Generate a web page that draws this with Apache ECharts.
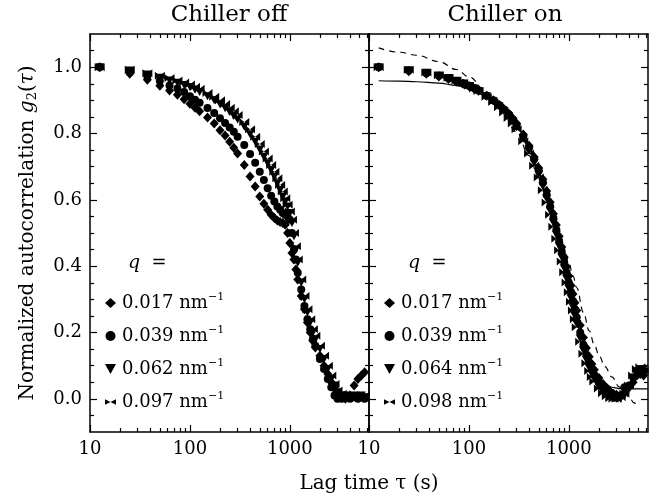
<!DOCTYPE html>
<html><head><meta charset="utf-8">
<script src="https://cdn.jsdelivr.net/npm/echarts@6/dist/echarts.min.js"></script>
<style>html,body{margin:0;padding:0;background:#fff}#c{width:657px;height:497px}</style>
</head><body><div id="c"></div>
<script>
// ---------- data ----------
const lags = [12.5,25,37.5,50,62.5,75,87.5,100,112.5,125,150,175,200,225,250,275,300,350,400,450,500,550,600,650,700,750,800,850,900,950,1000,1050,1100,1150,1200,1300,1400,1500,1600,1700,1800,2000,2200,2400,2600,2800,3000,3300,3600,4000,4400,4800,5200,5600];

// Chiller off
const offQ017 = [1.0,0.98,0.962,0.944,0.93,0.917,0.903,0.89,0.878,0.867,0.848,0.83,0.81,0.794,0.775,0.757,0.74,0.705,0.67,0.64,0.61,0.588,0.57,0.555,0.545,0.538,0.533,0.53,0.525,0.5,0.47,0.44,0.42,0.39,0.36,0.31,0.27,0.23,0.2,0.175,0.155,0.13,0.1,0.075,0.05,0.035,0.015,0.005,0.0,0.01,0.04,0.06,0.07,0.08];
const offQ039 = [1.0,0.985,0.972,0.958,0.945,0.936,0.925,0.912,0.902,0.893,0.877,0.862,0.846,0.832,0.818,0.805,0.79,0.765,0.738,0.712,0.685,0.66,0.635,0.612,0.595,0.58,0.57,0.56,0.555,0.55,0.54,0.5,0.45,0.42,0.38,0.33,0.28,0.24,0.21,0.18,0.16,0.12,0.09,0.06,0.035,0.01,0.0,0.0,0.005,0.0,0.005,0.0,0.005,0.0];
const offQ062 = [1.0,0.99,0.978,0.968,0.96,0.953,0.946,0.94,0.932,0.925,0.912,0.9,0.888,0.877,0.865,0.853,0.842,0.82,0.798,0.775,0.752,0.73,0.71,0.69,0.67,0.65,0.63,0.61,0.595,0.58,0.56,0.53,0.49,0.45,0.41,0.35,0.3,0.26,0.23,0.2,0.18,0.15,0.12,0.09,0.06,0.04,0.02,0.01,0.01,0.005,0.01,0.005,0.01,0.005];
const offQ097 = [1.0,0.992,0.982,0.974,0.967,0.96,0.954,0.948,0.941,0.935,0.922,0.911,0.9,0.889,0.878,0.867,0.856,0.835,0.813,0.79,0.768,0.746,0.725,0.705,0.685,0.665,0.645,0.625,0.605,0.585,0.565,0.54,0.5,0.46,0.42,0.36,0.31,0.27,0.24,0.21,0.19,0.16,0.13,0.1,0.07,0.045,0.025,0.015,0.01,0.01,0.005,0.01,0.005,0.01];

// Chiller on
const onQ017 = [1.0,0.988,0.98,0.972,0.964,0.956,0.95,0.943,0.936,0.929,0.914,0.9,0.887,0.873,0.86,0.845,0.83,0.797,0.763,0.729,0.696,0.662,0.627,0.593,0.558,0.524,0.49,0.458,0.427,0.398,0.37,0.342,0.316,0.29,0.266,0.222,0.185,0.153,0.127,0.105,0.088,0.063,0.045,0.032,0.022,0.015,0.012,0.01,0.02,0.035,0.05,0.07,0.075,0.07];
const onQ039 = [1.0,0.99,0.982,0.974,0.966,0.958,0.951,0.944,0.937,0.93,0.914,0.9,0.886,0.872,0.858,0.842,0.826,0.792,0.757,0.722,0.688,0.652,0.615,0.58,0.545,0.51,0.476,0.443,0.41,0.38,0.35,0.322,0.295,0.27,0.245,0.2,0.163,0.133,0.108,0.088,0.072,0.048,0.032,0.02,0.012,0.006,0.004,0.01,0.035,0.04,0.065,0.085,0.09,0.085];
const onQ064 = [1.0,0.991,0.983,0.975,0.967,0.959,0.951,0.943,0.936,0.928,0.912,0.897,0.882,0.867,0.852,0.836,0.819,0.784,0.748,0.712,0.677,0.64,0.603,0.567,0.531,0.495,0.46,0.426,0.393,0.362,0.332,0.303,0.276,0.25,0.226,0.182,0.146,0.117,0.093,0.074,0.059,0.037,0.022,0.012,0.005,0.002,0.0,0.0,0.01,0.03,0.06,0.08,0.085,0.09];
const onQ098 = [1.0,0.992,0.984,0.976,0.968,0.96,0.952,0.944,0.936,0.928,0.911,0.895,0.879,0.863,0.847,0.83,0.813,0.777,0.74,0.703,0.667,0.629,0.592,0.555,0.519,0.483,0.448,0.414,0.382,0.351,0.321,0.293,0.266,0.24,0.216,0.172,0.136,0.107,0.084,0.066,0.052,0.031,0.017,0.008,0.002,0.0,0.0,0.005,0.015,0.04,0.07,0.09,0.095,0.085];

// fits (Chiller on)
const solidLags = [12.5,20,30,50,75,100,150,200,300,400,500,600,700,800,900,1000,1100,1200,1400,1600,1800,2000,2300,2700,3200,4000,5000,6200];
const solidFit  = [0.959,0.958,0.956,0.952,0.945,0.935,0.913,0.887,0.826,0.757,0.684,0.61,0.539,0.471,0.407,0.35,0.298,0.253,0.179,0.127,0.09,0.067,0.046,0.035,0.031,0.03,0.03,0.03];
const dashLags  = [12.5,20,30,50,75,100,150,200,300,400,500,600,700,800,900,1000,1100,1200,1400,1600,1800,2000,2300,2700,3200,3600,4000,4500,5000];
const dashFit   = [1.058,1.045,1.036,1.017,0.993,0.971,0.926,0.884,0.805,0.733,0.666,0.606,0.55,0.499,0.453,0.41,0.371,0.335,0.26,0.205,0.163,0.132,0.097,0.066,0.036,0.018,0.005,-0.012,-0.025];

// legend labels
const offLabels = ['0.017','0.039','0.062','0.097'];
const onLabels  = ['0.017','0.039','0.064','0.098'];

// ticks
const xMajorTicks = [10,100,1000];
const xMinorTicks = [20,30,40,50,60,70,80,90,200,300,400,500,600,700,800,900,2000,3000,4000,5000,6000];
const yMajorTicks = [0,0.2,0.4,0.6,0.8,1.0];
const yMinorTicks = [-0.05,0.05,0.1,0.15,0.25,0.3,0.35,0.45,0.5,0.55,0.65,0.7,0.75,0.85,0.9,0.95,1.05];

const panelTitles = ['Chiller off','Chiller on'];
const xName = 'Lag time \u03C4 (s)';

// ---------- chart ----------
const FONT = 'DejaVu Serif';
const BLACK = '#000';
const X_MIN = 10, X_MAX = 6200, Y_MIN = -0.1, Y_MAX = 1.1;
const bowtie = 'path://M0,0L10,5L0,10Z M20,0L10,5L20,10Z';
const downTri = 'path://M0,0L10,0L5,9Z';

const grids = [
  {left: 90, top: 34, width: 279, height: 398},
  {left: 369, top: 34, width: 279, height: 398}
];

function xAxes(g) {
  const base = {type: 'log', gridIndex: g, min: X_MIN, max: X_MAX, splitLine: {show: false}, minorTick: {show: false}};
  const line = {show: true, onZero: false, lineStyle: {color: BLACK, width: 1.5}};
  const noLine = {show: false, onZero: false};
  return [
    Object.assign({}, base, {position: 'bottom', axisLine: line,
      axisTick: {show: true, inside: true, length: 7, customValues: xMajorTicks, lineStyle: {color: BLACK, width: 1.2}},
      axisLabel: {show: true, customValues: xMajorTicks, margin: 8, color: BLACK, fontFamily: FONT, fontSize: 18,
        formatter: v => String(Math.round(v))}}),
    Object.assign({}, base, {position: 'bottom', axisLine: noLine,
      axisTick: {show: true, inside: true, length: 4, customValues: xMinorTicks, lineStyle: {color: BLACK, width: 1.2}},
      axisLabel: {show: false}}),
    Object.assign({}, base, {position: 'top', axisLine: line,
      axisTick: {show: true, inside: true, length: 7, customValues: xMajorTicks, lineStyle: {color: BLACK, width: 1.2}},
      axisLabel: {show: false}}),
    Object.assign({}, base, {position: 'top', axisLine: noLine,
      axisTick: {show: true, inside: true, length: 4, customValues: xMinorTicks, lineStyle: {color: BLACK, width: 1.2}},
      axisLabel: {show: false}})
  ];
}
function yAxes(g) {
  const base = {type: 'value', gridIndex: g, min: Y_MIN, max: Y_MAX, splitLine: {show: false}};
  const line = {show: true, onZero: false, lineStyle: {color: BLACK, width: 1.5}};
  const noLine = {show: false, onZero: false};
  const main = Object.assign({}, base, {position: 'left', axisLine: line,
      axisTick: {show: true, inside: true, length: 7, customValues: yMajorTicks, lineStyle: {color: BLACK, width: 1.2}},
      axisLabel: {show: g === 0, customValues: yMajorTicks, margin: 8, color: BLACK, fontFamily: FONT, fontSize: 18,
        formatter: v => v.toFixed(1)}});
  if (g === 0) {
    Object.assign(main, {
      name: 'Normalized autocorrelation {i|g}{sub|2}({i|\u03C4})',
      nameLocation: 'middle', nameGap: 51, nameRotate: 90,
      nameTextStyle: {color: BLACK, fontFamily: FONT, fontSize: 20,
        rich: {i: {fontStyle: 'italic', fontFamily: FONT, fontSize: 20, color: BLACK},
               sub: {fontFamily: FONT, fontSize: 13, color: BLACK, verticalAlign: 'bottom', padding: [10, 0, 0, 0]}}}
    });
  }
  return [
    main,
    Object.assign({}, base, {position: 'left', axisLine: noLine,
      axisTick: {show: true, inside: true, length: 4, customValues: yMinorTicks, lineStyle: {color: BLACK, width: 1.2}},
      axisLabel: {show: false}}),
    Object.assign({}, base, {position: 'right', axisLine: line,
      axisTick: {show: true, inside: true, length: 7, customValues: yMajorTicks, lineStyle: {color: BLACK, width: 1.2}},
      axisLabel: {show: false}}),
    Object.assign({}, base, {position: 'right', axisLine: noLine,
      axisTick: {show: true, inside: true, length: 4, customValues: yMinorTicks, lineStyle: {color: BLACK, width: 1.2}},
      axisLabel: {show: false}})
  ];
}

const symbols = [
  {symbol: 'diamond', symbolSize: [9, 10]},
  {symbol: 'circle', symbolSize: 8},
  {symbol: downTri, symbolSize: [9, 8]},
  {symbol: bowtie, symbolSize: [10, 8]}
];
const offSets = [offQ017, offQ039, offQ062, offQ097];
const onSets = [onQ017, onQ039, onQ064, onQ098];
const offNames = offLabels.map(l => 'off ' + l);
const onNames = onLabels.map(l => 'on ' + l);
const nameToLabel = {};
offNames.forEach((n, i) => nameToLabel[n] = offLabels[i] + ' nm{sup|\u22121}');
onNames.forEach((n, i) => nameToLabel[n] = onLabels[i] + ' nm{sup|\u22121}');

const series = [];
offSets.forEach((arr, i) => {
  series.push(Object.assign({type: 'scatter', name: offNames[i], xAxisIndex: 0, yAxisIndex: 0,
    data: lags.map((t, k) => [t, arr[k]]), itemStyle: {color: BLACK, opacity: 1}, emphasis: {disabled: true}, z: 5}, symbols[i]));
});
onSets.forEach((arr, i) => {
  series.push(Object.assign({type: 'scatter', name: onNames[i], xAxisIndex: 4, yAxisIndex: 4,
    data: lags.map((t, k) => [t, arr[k]]), itemStyle: {color: BLACK, opacity: 1}, emphasis: {disabled: true}, z: 5}, symbols[i]));
});
series.push({type: 'line', name: 'fit solid', xAxisIndex: 4, yAxisIndex: 4, showSymbol: false, symbol: 'none',
  smooth: 0.4, smoothMonotone: 'x', data: solidLags.map((t, k) => [t, solidFit[k]]),
  lineStyle: {color: BLACK, width: 1.2, type: 'solid'}, z: 6, silent: true});
series.push({type: 'line', name: 'fit dashed', xAxisIndex: 4, yAxisIndex: 4, showSymbol: false, symbol: 'none',
  smooth: 0.4, smoothMonotone: 'x', data: dashLags.map((t, k) => [t, dashFit[k]]),
  lineStyle: {color: BLACK, width: 1.2, type: [6, 5]}, z: 6, silent: true});

function legendFor(names, left) {
  return {
    data: names, left: left, top: 287, orient: 'vertical', itemGap: 11,
    itemWidth: 11, itemHeight: 10, selectedMode: false,
    formatter: n => nameToLabel[n],
    textStyle: {color: BLACK, fontFamily: FONT, fontSize: 18, lineHeight: 22, padding: [0, 0, 0, 1],
      rich: {sup: {fontFamily: FONT, fontSize: 11, color: BLACK, verticalAlign: 'top', lineHeight: 22}}}
  };
}

function qLabel(x) {
  return {type: 'text', x: x, y: 263, silent: true,
    style: {text: '{i|q}  =', fill: BLACK, font: '18px ' + FONT, verticalAlign: 'middle', align: 'left',
      rich: {i: {fontStyle: 'italic', fontFamily: FONT, fontSize: 19, fill: BLACK}}}};
}

const option = {
  animation: false,
  backgroundColor: '#fff',
  grid: grids,
  xAxis: xAxes(0).concat(xAxes(1)),
  yAxis: yAxes(0).concat(yAxes(1)),
  legend: [legendFor(offNames, 100), legendFor(onNames, 379)],
  series: series,
  graphic: [
    {type: 'text', x: 229, y: 15, silent: true, style: {text: panelTitles[0], fill: BLACK, font: '23px ' + FONT, align: 'center', verticalAlign: 'middle'}},
    {type: 'text', x: 505, y: 15, silent: true, style: {text: panelTitles[1], fill: BLACK, font: '23px ' + FONT, align: 'center', verticalAlign: 'middle'}},
    {type: 'text', x: 369, y: 484, silent: true, style: {text: xName, fill: BLACK, font: '20px ' + FONT, align: 'center', verticalAlign: 'middle'}},
    qLabel(128), qLabel(408)
  ]
};
const chart = echarts.init(document.getElementById('c'), null, {renderer: 'canvas'});
chart.setOption(option);
</script>
</body></html>
